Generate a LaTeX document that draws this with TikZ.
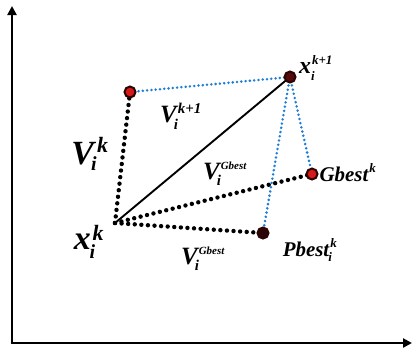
\documentclass[tikz,border=0pt]{standalone}
\usepackage{amsmath}
\usepackage{fontspec}
\setmainfont{Liberation Serif}
\usetikzlibrary{arrows.meta}
\definecolor{dotred}{RGB}{215,25,25}
\definecolor{dotblue}{RGB}{30,125,215}
\newcommand{\fs}[2]{\text{\fontsize{#1}{#1}\selectfont\bfseries\itshape #2}}
\begin{document}
\begin{tikzpicture}[x=1bp,y=-1bp,
  axis/.style={line width=2.8bp,-{Triangle[length=9bp,width=9bp]}},
  blackdots/.style={line width=4.4bp,line cap=round,dash pattern=on 0pt off 6.6bp},
  bluedots/.style={line width=2.8bp,line cap=round,dash pattern=on 0pt off 4.3bp,dotblue},
  move/.style={line width=1.9bp},
  dotnode/.style={circle,fill=dotred,draw=black!80!dotred,line width=2bp,minimum size=11bp,inner sep=0pt},
  lab/.style={inner sep=0pt}]
\useasboundingbox (0,0) rectangle (414,351);
% points
\coordinate (O) at (12,343);
\coordinate (Ytop) at (12,6);
\coordinate (Xright) at (412,343);
\coordinate (xk) at (115,223);
\coordinate (vk) at (130,92);
\coordinate (xk1) at (290,77);
\coordinate (gb) at (312,174);
\coordinate (pb) at (263,233);
% axes
\draw[axis] (O) -- (Ytop);
\draw[axis] ([xshift=-1.4bp]O) -- (Xright);
% dotted connectors
\draw[blackdots] (xk) -- (vk);
\draw[blackdots] (xk) -- (gb);
\draw[blackdots] (xk) -- (pb);
\draw[bluedots] (vk) -- (xk1);
\draw[bluedots] (xk1) -- (gb);
\draw[bluedots] (xk1) -- (pb);
\draw[move] (xk) -- (xk1);
% dots
\node[dotnode] (dvk) at (vk) {};
\node[dotnode,fill=black!60!dotred] (dxk1) at (xk1) {};
\node[dotnode] (dgb) at (gb) {};
\node[dotnode,fill=black!80!dotred] (dpb) at (pb) {};
% labels
\node[lab,font=\fontsize{34}{36}\selectfont] (lvk) at (90,154)
  {$\fs{34}{V}^{\kern3bp\fs{22}{k}}_{\kern-3bp\fs{20}{i}}$};
\node[lab,font=\fontsize{34}{36}\selectfont] (lxk) at (89,242)
  {$\fs{34}{x}^{\kern2bp\fs{22}{k}}_{\kern-1bp\fs{20}{i}}$};
\node[lab,font=\fontsize{25}{27}\selectfont] (lvk1) at (181,116)
  {$\fs{25}{V}^{\kern1bp\fs{15}{k+1}}_{\kern-3bp\fs{15}{i}}$};
\node[lab,font=\fontsize{25}{27}\selectfont] (lvg) at (225,174)
  {$\fs{25}{V}^{\kern1bp\fs{11}{Gbest}}_{\kern-3bp\fs{15}{i}}$};
\node[lab,font=\fontsize{25}{27}\selectfont] (lvp) at (203,259)
  {$\fs{25}{V}^{\kern1bp\fs{11}{Gbest}}_{\kern-3bp\fs{15}{i}}$};
\node[lab,font=\fontsize{21}{23}\selectfont] (lgb) at (348,173)
  {$\fs{21}{Gbest}^{\kern1bp\fs{13}{k}}$};
\node[lab,font=\fontsize{21}{23}\selectfont] (lpb) at (310,250)
  {$\fs{21}{Pbest}^{\kern1bp\fs{13}{k}}_{\kern-1bp\fs{13}{i}}$};
\node[lab,font=\fontsize{24}{26}\selectfont] (lxk1) at (316,68)
  {$\fs{24}{x}^{\kern1bp\fs{13}{k+1}}_{\fs{13}{i}}$};
\end{tikzpicture}
\end{document}
